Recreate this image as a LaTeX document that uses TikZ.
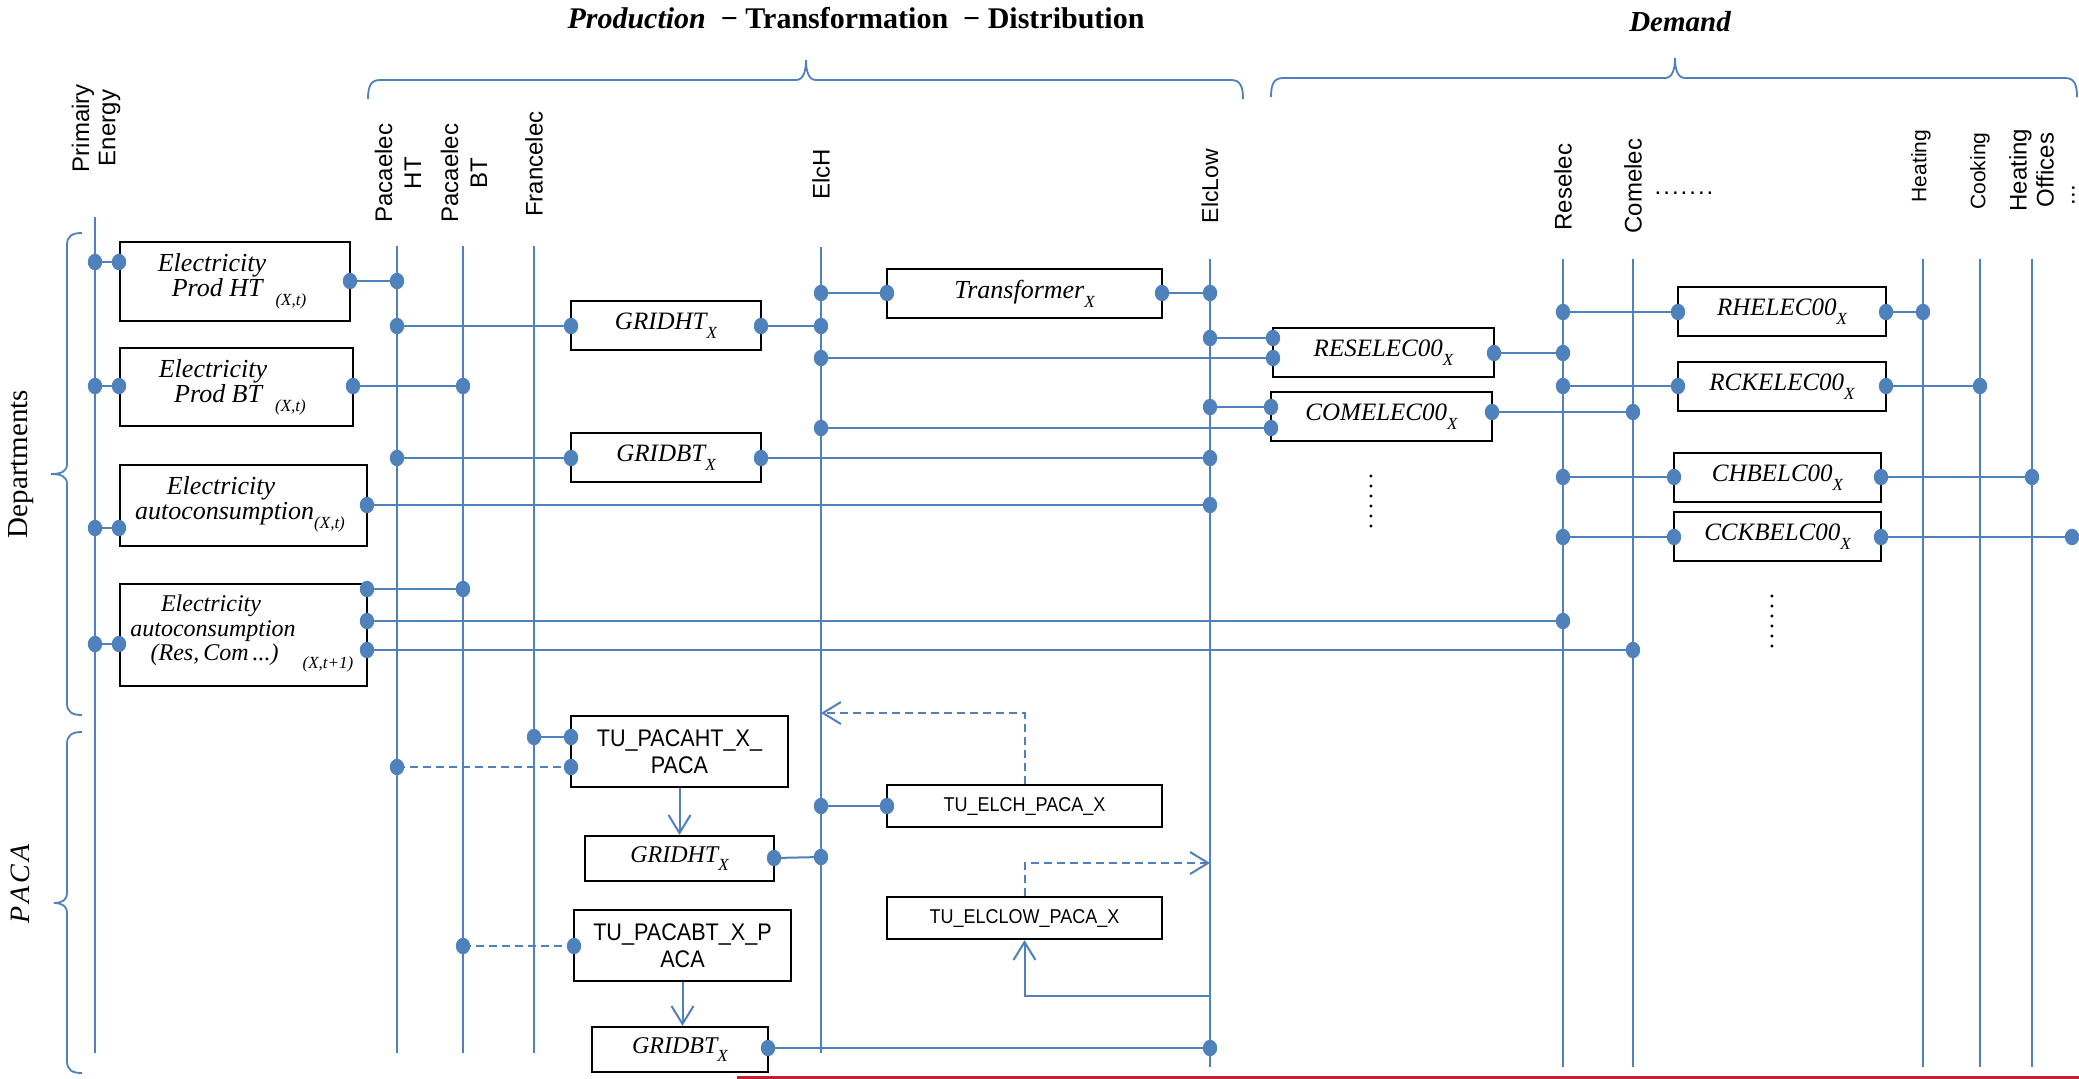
\documentclass[tikz,border=0pt]{standalone}
\usepackage{fontspec}
\setmainfont{Liberation Serif}
\setsansfont{Liberation Sans}
\newfontfamily\narrowsans[FakeStretch=0.9]{Liberation Sans}
\usetikzlibrary{arrows.meta}
\definecolor{bl}{RGB}{79,129,189}
\definecolor{redline}{RGB}{192,32,48}
\newcommand{\sbx}[1]{\raisebox{-0.35em}{\fontsize{8.5}{9}\selectfont#1}}
\begin{document}
\begin{tikzpicture}[x=0.5pt,y=-0.5pt,
  bus/.style={draw=bl,line width=1pt},
  wire/.style={draw=bl,line width=1pt},
  dashwire/.style={draw=bl,line width=1pt,dash pattern=on 4pt off 2.5pt},
  arr/.style={-{Straight Barb[length=9pt,width=11pt]}},
  brace/.style={draw=bl,line width=0.9pt},
  box/.style={draw=black,line width=1.1pt,fill=white,inner sep=0pt,align=center},
  ibox/.style={box,font=\fontsize{12.5}{14}\selectfont\itshape},
  sbox/.style={box,font=\narrowsans\fontsize{12}{13.5}\selectfont},
  itx/.style={inner sep=0pt,font=\fontsize{13}{15}\selectfont\itshape},
  lab/.style={inner sep=0pt,rotate=90,align=center,font=\sffamily\fontsize{12}{14.5}\selectfont},
  dotstyle/.style={fill=bl}
]
\useasboundingbox[fill=white] (0,0) rectangle (2079,1078);

% ---------- headings ----------
\node[inner sep=0pt,font=\fontsize{15}{16}\selectfont\bfseries] (title) at (856,18)
  {\textit{Production}\ \ −\ Transformation\ \ −\ Distribution};
\node[inner sep=0pt,font=\fontsize{14.5}{16}\selectfont\bfseries\itshape] (demand) at (1680,22) {Demand};
\node[inner sep=0pt,rotate=90,font=\fontsize{14.5}{16}\selectfont] (dept) at (21,464) {Departments};
\node[inner sep=0pt,rotate=90,font=\fontsize{14}{16}\selectfont\itshape] (paca) at (20,884) {P\kern1.5pt A\kern1.5pt C\kern1.5pt A};

% braces
\draw[brace] (368,99) .. controls (368,86) and (371,80) .. (380,80) -- (796,80)
  .. controls (803,80) and (806,72) .. (806,60) .. controls (806,72) and (809,80) .. (816,80)
  -- (1231,80) .. controls (1240,80) and (1243,86) .. (1243,99);
\draw[brace] (1271,97) .. controls (1271,84) and (1274,78) .. (1283,78) -- (1665,78)
  .. controls (1672,78) and (1675,70) .. (1675,58) .. controls (1675,70) and (1678,78) .. (1685,78)
  -- (2065,78) .. controls (2074,78) and (2077,84) .. (2077,97);
\draw[brace] (82,233) .. controls (72,233) and (67,236) .. (67,245) -- (67,464)
  .. controls (67,471) and (62,474) .. (51,474) .. controls (62,474) and (67,477) .. (67,484)
  -- (67,703) .. controls (67,712) and (72,715) .. (82,715);
\draw[brace] (82,732) .. controls (72,732) and (67,735) .. (67,744) -- (67,893)
  .. controls (67,900) and (62,903) .. (54,903) .. controls (62,903) and (67,906) .. (67,913)
  -- (67,1061) .. controls (67,1070) and (72,1073) .. (82,1073);

% ---------- column labels ----------
\node[lab,font=\sffamily\fontsize{12}{13.2}\selectfont] (lprim) at (96,128) {Primairy\\Energy};
\node[lab] (lpht) at (398,173) {Pacaelec\\HT};
\node[lab] (lpbt) at (464,173) {Pacaelec\\BT};
\node[lab] (lfra) at (534,164) {Francelec};
\node[lab] (lelch) at (821,174) {ElcH};
\node[lab,font=\sffamily\fontsize{11.5}{13}\selectfont] (lelclow) at (1210,186) {ElcLow};
\node[lab] (lres) at (1563,187) {Reselec};
\node[lab] (lcom) at (1633,186) {Comelec};
\node[inner sep=0pt,font=\sffamily\fontsize{12}{12}\selectfont] (hdots) at (1684,193) {.\kern1pt.\kern1pt.\kern1pt.\kern1pt.\kern1pt.\kern1pt.};
\node[lab,font=\sffamily\fontsize{10.5}{12}\selectfont] (lheat) at (1921,166) {Heating};
\node[lab,font=\sffamily\fontsize{10.5}{12}\selectfont] (lcook) at (1980,171) {Cooking};
\node[lab,font=\sffamily\fontsize{12}{13.5}\selectfont] (lhoff) at (2042,170) {Heating\\Offices\\[-3pt]...\hspace*{25pt}};

% ---------- buses ----------
\coordinate (prim-t) at (95,217);   \coordinate (prim-b) at (95,1053);
\coordinate (pht-t) at (397,246);   \coordinate (pht-b) at (397,1053);
\coordinate (pbt-t) at (463,246);   \coordinate (pbt-b) at (463,1053);
\coordinate (fra-t) at (534,246);   \coordinate (fra-b) at (534,1053);
\coordinate (elch-t) at (821,247);  \coordinate (elch-b) at (821,1053);
\coordinate (elclow-t) at (1210,259); \coordinate (elclow-b) at (1210,1067);
\coordinate (res-t) at (1563,259);  \coordinate (res-b) at (1563,1067);
\coordinate (com-t) at (1633,259);  \coordinate (com-b) at (1633,1067);
\coordinate (heat-t) at (1923,259); \coordinate (heat-b) at (1923,1067);
\coordinate (cook-t) at (1980,259); \coordinate (cook-b) at (1980,1067);
\coordinate (hoff-t) at (2032,259); \coordinate (hoff-b) at (2032,1067);
\foreach \b in {prim,pht,pbt,fra,elch,elclow,res,com,heat,cook,hoff}
  \draw[bus] (\b-t) -- (\b-b);

% ---------- ports ----------
\coordinate (a1) at (95,262);   \coordinate (a2) at (119,262);
\coordinate (b1) at (350,281);  \coordinate (b2) at (397,281);
\coordinate (c1) at (397,326);  \coordinate (c2) at (571,326);
\coordinate (d1) at (761,326);  \coordinate (d2) at (821,326);
\coordinate (e1) at (821,293);  \coordinate (e2) at (887,293);
\coordinate (f1) at (1162,293); \coordinate (f2) at (1210,293);
\coordinate (g1) at (95,386);   \coordinate (g2) at (119,386);
\coordinate (h1) at (353,386);  \coordinate (h2) at (463,386);
\coordinate (i1) at (1210,338); \coordinate (i2) at (1273,338);
\coordinate (j1) at (821,358);  \coordinate (j2) at (1273,358);
\coordinate (k1) at (1494,353); \coordinate (k2) at (1563,353);
\coordinate (l1) at (1210,407); \coordinate (l2) at (1271,407);
\coordinate (m1) at (821,428);  \coordinate (m2) at (1271,428);
\coordinate (n1) at (1492,412); \coordinate (n2) at (1633,412);
\coordinate (o1) at (397,458);  \coordinate (o2) at (571,458);
\coordinate (p1) at (761,458);  \coordinate (p2) at (1210,458);
\coordinate (q1) at (95,528);   \coordinate (q2) at (119,528);
\coordinate (r1) at (367,505);  \coordinate (r2) at (1210,505);
\coordinate (s1) at (95,644);   \coordinate (s2) at (119,644);
\coordinate (t1) at (367,589);  \coordinate (t2) at (463,589);
\coordinate (u1) at (367,621);  \coordinate (u2) at (1563,621);
\coordinate (v1) at (367,650);  \coordinate (v2) at (1633,650);
\coordinate (w1) at (1563,312); \coordinate (w2) at (1678,312);
\coordinate (x1) at (1886,312); \coordinate (x2) at (1923,312);
\coordinate (y1) at (1563,386); \coordinate (y2) at (1678,386);
\coordinate (z1) at (1886,386); \coordinate (z2) at (1980,386);
\coordinate (aa1) at (1563,477); \coordinate (aa2) at (1674,477);
\coordinate (ab1) at (1881,477); \coordinate (ab2) at (2032,477);
\coordinate (ac1) at (1563,537); \coordinate (ac2) at (1674,537);
\coordinate (ad1) at (1881,537); \coordinate (ad2) at (2072,537);
\coordinate (ae1) at (534,737);  \coordinate (ae2) at (571,737);
\coordinate (af1) at (397,767);  \coordinate (af2) at (571,767);
\coordinate (ag1) at (774,858);  \coordinate (ag2) at (821,857);
\coordinate (ah1) at (463,946);  \coordinate (ah2) at (574,946);
\coordinate (ai1) at (768,1048); \coordinate (ai2) at (1210,1048);
\coordinate (aj1) at (821,806);  \coordinate (aj2) at (887,806);

\foreach \w in {a,b,c,d,e,f,g,h,i,j,k,l,m,n,o,p,q,r,s,t,u,v,w,x,y,z,aa,ab,ac,ad,ae,ag,ai,aj}
  \draw[wire] (\w1) -- (\w2);
\draw[dashwire] (af1) -- (af2);
\draw[dashwire] (ah1) -- (ah2);

% ---------- boxes ----------
\node[box,minimum width=115pt,minimum height=39.5pt] (eph) at (235,281.5) {};
\node[box,minimum width=116.5pt,minimum height=39pt] (epb) at (236.5,387) {};
\node[box,minimum width=123.5pt,minimum height=40.5pt] (eac) at (243.5,505.5) {};
\node[box,minimum width=123.5pt,minimum height=51pt] (eacr) at (243.5,635) {};

\node[itx] (eph-1) at (212,265) {Electricity};
\node[itx] (eph-2) at (239,294) {Prod HT\ \ \sbx{(X,t)}};
\node[itx] (epb-1) at (213,371) {Electricity};
\node[itx] (epb-2) at (240,400) {Prod BT\ \ \sbx{(X,t)}};
\node[itx] (eac-1) at (221,488) {Electricity};
\node[itx] (eac-2) at (240,517) {autoconsumption\sbx{(X,t)}};
\node[itx,font=\fontsize{12}{14}\selectfont\itshape] (eacr-1) at (211,606) {Electricity};
\node[itx,font=\fontsize{12}{14}\selectfont\itshape] (eacr-2) at (213,631) {autoconsumption};
\node[itx,font=\fontsize{12}{14}\selectfont\itshape] (eacr-3) at (252,658) {(Res,\,Com\,...)\hspace{12pt}\sbx{(X,t+1)}};

\node[ibox,minimum width=95pt,minimum height=24.5pt] (gridht) at (666,325.5) {GRIDHT\sbx{X}};
\node[ibox,minimum width=95pt,minimum height=24.5pt] (gridbt) at (666,457.5) {GRIDBT\sbx{X}};
\node[ibox,font=\fontsize{13}{14}\selectfont\itshape,minimum width=137.5pt,minimum height=24.5pt] (transf) at (1024.5,293.5) {Transformer\sbx{X}};
\node[ibox,minimum width=110.5pt,minimum height=24.5pt] (reselec) at (1383.5,352.5) {RESELEC00\sbx{X}};
\node[ibox,minimum width=110.5pt,minimum height=24.5pt] (comelec) at (1381.5,416.5) {COMELEC00\sbx{X}};
\node[ibox,minimum width=104pt,minimum height=24.5pt] (rhelec) at (1782,311.5) {RHELEC00\sbx{X}};
\node[ibox,minimum width=104pt,minimum height=24.5pt] (rckelec) at (1782,386.5) {RCKELEC00\sbx{X}};
\node[ibox,minimum width=103.5pt,minimum height=24.5pt] (chbelc) at (1777.5,477.5) {CHBELC00\sbx{X}};
\node[ibox,minimum width=103.5pt,minimum height=24.5pt] (cckbelc) at (1777.5,536.5) {CCKBELC00\sbx{X}};

\node[sbox,minimum width=108.5pt,minimum height=35.5pt] (tupht) at (679.5,751.5) {TU\_PACAHT\_X\_\\PACA};
\node[ibox,font=\fontsize{12}{14}\selectfont\itshape,minimum width=94.5pt,minimum height=22.5pt] (gridht2) at (679.5,858.5) {GRIDHT\sbx{X}};
\node[sbox,minimum width=108.5pt,minimum height=35.5pt] (tupbt) at (682.5,945.5) {TU\_PACABT\_X\_P\\ACA};
\node[ibox,font=\fontsize{12}{14}\selectfont\itshape,minimum width=88pt,minimum height=22.5pt] (gridbt2) at (680,1049.5) {GRIDBT\sbx{X}};
\node[sbox,font=\narrowsans\fontsize{10}{12}\selectfont,minimum width=137.5pt,minimum height=21pt] (tuelch) at (1024.5,806) {TU\_ELCH\_PACA\_X};
\node[sbox,font=\narrowsans\fontsize{10}{12}\selectfont,minimum width=137.5pt,minimum height=21pt] (tuelclow) at (1024.5,918) {TU\_ELCLOW\_PACA\_X};

% vertical ellipses
\node[inner sep=0pt,rotate=90,font=\fontsize{12}{12}\selectfont] (vd1) at (1371,501) {.\kern2pt.\kern2pt.\kern2pt.\kern2pt.\kern2pt.};
\node[inner sep=0pt,rotate=90,font=\fontsize{12}{12}\selectfont] (vd2) at (1772,621) {.\kern2pt.\kern2pt.\kern2pt.\kern2pt.\kern2pt.};

% ---------- arrows ----------
\draw[wire,arr] (tupht.south) -- (gridht2.north);
\draw[wire,arr] (tupbt.south) -- (tupbt.south |- gridbt2.north);
\coordinate (elch-in) at (821,713);
\coordinate (elclow-in) at (1210,863);
\coordinate (elclow-out) at (1210,996);
\draw[dashwire,arr] (tuelch.north) |- (elch-in);
\draw[dashwire,arr] (tuelclow.north) |- (elclow-in);
\draw[wire,arr] (elclow-out) -| (tuelclow.south);

% ---------- dots ----------
\foreach \w in {a,b,c,d,e,f,g,h,i,j,k,l,m,n,o,p,q,r,s,t,u,v,w,x,y,z,aa,ab,ac,ad,ae,af,ag,ah,ai,aj}{
  \fill[dotstyle] (\w1) ellipse [x radius=3.6pt, y radius=4.1pt];
  \fill[dotstyle] (\w2) ellipse [x radius=3.6pt, y radius=4.1pt];
}

% red rule at the bottom
\coordinate (red-l) at (737,1077);
\coordinate (red-r) at (2079,1077);
\draw[redline,line width=1.5pt] (red-l) -- (red-r);
\end{tikzpicture}
\end{document}
